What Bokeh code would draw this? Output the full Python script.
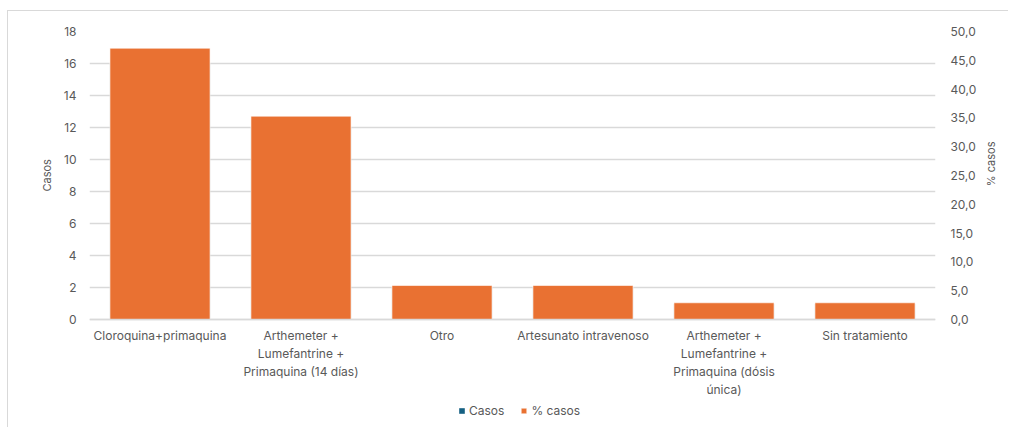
import math
from bokeh.plotting import figure
from bokeh.models import Range1d, LinearAxis, FixedTicker, Legend, LegendItem, ColumnDataSource
from bokeh.embed import file_html
from bokeh.resources import INLINE

categories = ["Cloroquina+primaquina",
              "Arthemeter +\nLumefantrine +\nPrimaquina (14 días)",
              "Otro",
              "Artesunato intravenoso",
              "Arthemeter +\nLumefantrine +\nPrimaquina (dósis\núnica)",
              "Sin tratamiento"]
casos = [16, 12, 2, 2, 1, 1]
pct_casos = [47.1, 35.3, 5.9, 5.9, 2.9, 2.9]
left_ticks = [0, 2, 4, 6, 8, 10, 12, 14, 16, 18]
right_ticks = [0, 5, 10, 15, 20, 25, 30, 35, 40, 45, 50]
right_labels = ["0,0", "5,0", "10,0", "15,0", "20,0", "25,0", "30,0", "35,0", "40,0", "45,0", "50,0"]
left_title = "Casos"
right_title = "% casos"

FONT = "Inter"
FS = "12px"
GRAY = "#595959"
GRID = "#d9d9d9"
BLUE = "#156082"
ORANGE = "#E97132"

# plot frame: value 0 sits 108 px above the bottom of the window; room below holds labels/legend
PLOT_H = 288
BELOW_H = 108
left_max, right_max = 18, 50
left_min = -left_max * BELOW_H / PLOT_H
right_min = -right_max * BELOW_H / PLOT_H
# axis titles are centred on the whole frame; pad with no-break spaces so they sit mid-plot
PAD_L = "\u00a0" * 35
PAD_R = "\u00a0" * 14

src = ColumnDataSource(dict(cat=categories, casos=casos, pct=pct_casos))

p = figure(x_range=categories, y_range=Range1d(left_min, left_max),
           frame_width=846, frame_height=PLOT_H + BELOW_H,
           output_backend="svg", toolbar_location=None,
           min_border_left=81, min_border_right=70, min_border_top=20, min_border_bottom=0,
           outline_line_color=None, margin=(10, 0, 0, 7),
           styles={"border-left": "1px solid #d9d9d9", "border-top": "1px solid #d9d9d9"})
p.extra_y_ranges = {"pct": Range1d(right_min, right_max)}

r1 = p.vbar(x="cat", top="casos", width=0.71, source=src, fill_color=BLUE, line_color=None)
r2 = p.vbar(x="cat", top="pct", width=0.71, source=src, fill_color=ORANGE, line_color="white",
            line_alpha=0.6, line_width=1, y_range_name="pct")

p.xgrid.grid_line_color = None
p.ygrid.grid_line_color = GRID
p.ygrid.grid_line_width = 1.5
p.yaxis.ticker = FixedTicker(ticks=left_ticks)

ax = p.yaxis[0]
ax.axis_line_color = None
ax.major_tick_line_color = None
ax.minor_tick_line_color = None
ax.major_label_text_font = FONT
ax.major_label_text_font_size = FS
ax.major_label_text_color = GRAY
ax.major_label_standoff = 7
ax.axis_label = PAD_L + left_title
ax.axis_label_text_font = FONT
ax.axis_label_text_font_size = "11px"
ax.axis_label_text_font_style = "normal"
ax.axis_label_text_color = GRAY
ax.axis_label_standoff = 7

ra = LinearAxis(y_range_name="pct", ticker=FixedTicker(ticks=right_ticks),
                major_label_overrides={t: l for t, l in zip(right_ticks, right_labels)})
ra.axis_line_color = None
ra.major_tick_line_color = None
ra.minor_tick_line_color = None
ra.major_label_text_font = FONT
ra.major_label_text_font_size = FS
ra.major_label_text_color = GRAY
ra.major_label_standoff = 9
ra.axis_label = PAD_R + right_title
ra.axis_label_text_font = FONT
ra.axis_label_text_font_size = "11px"
ra.axis_label_text_font_style = "normal"
ra.axis_label_text_color = GRAY
ra.axis_label_standoff = 12
if "axis_label_orientation" in ra.properties():
    ra.axis_label_orientation = math.pi / 2
p.add_layout(ra, "right")

xa = p.xaxis[0]
xa.fixed_location = 0
xa.axis_line_color = GRID
xa.axis_line_width = 1.5
xa.major_tick_line_color = None
xa.minor_tick_line_color = None
xa.major_label_text_font = FONT
xa.major_label_text_font_size = FS
xa.major_label_text_color = GRAY
xa.major_label_standoff = 2

legend = Legend(items=[LegendItem(label="Casos", renderers=[r1]),
                       LegendItem(label="% casos", renderers=[r2])],
                orientation="horizontal", location=(369, 9),
                label_text_font=FONT, label_text_font_size=FS, label_text_color=GRAY,
                glyph_width=7, glyph_height=7, spacing=16, padding=2, margin=0,
                border_line_color=None, background_fill_alpha=0, label_standoff=4)
p.add_layout(legend, "center")

open("out.html", "w").write(file_html(p, INLINE))
